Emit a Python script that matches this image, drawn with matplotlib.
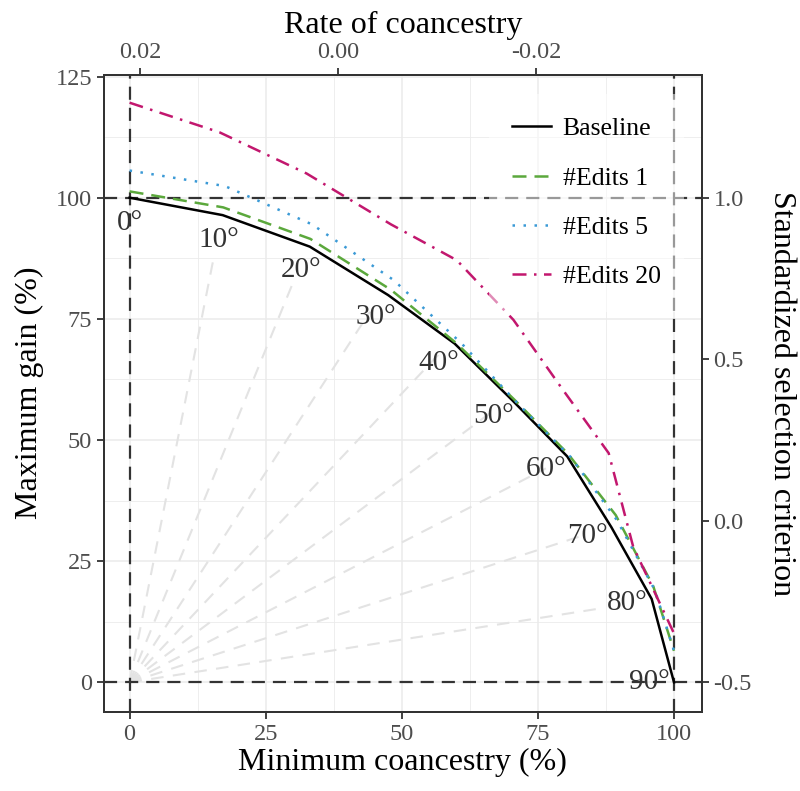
import numpy as np
import matplotlib
matplotlib.use("Agg")
import matplotlib.pyplot as plt

plt.rcParams["font.family"] = ["Liberation Serif", "DejaVu Serif"]
plt.rcParams["axes.unicode_minus"] = False

# --- data ---
angles = [0, 10, 20, 30, 40, 50, 60, 70, 80, 90]

base_x = [0, 17.1, 33.1, 47.5, 59.7, 70.3, 80.4, 88.5, 95.9, 100]
base_y = [100, 96.4, 89.9, 79.9, 69.9, 58.2, 46.6, 32.0, 17.2, 0]

ed1_x = [0, 17.2, 33.2, 48.0, 60.0, 70.7, 80.5, 89.3, 96.2, 100]
ed1_y = [101.3, 98.0, 91.5, 81.0, 70.0, 58.3, 47.2, 34.5, 19.8, 6.5]

ed5_x = [0, 17.5, 33.5, 48.5, 61.0, 71.5, 81.0, 89.5, 96.5, 100]
ed5_y = [105.6, 102.4, 94.5, 83.0, 69.9, 57.3, 46.5, 33.5, 19.0, 6.5]

ed20_x = [0, 16.5, 32.5, 48.0, 60.1, 70.5, 79.5, 88.0, 92.5, 100]
ed20_y = [119.6, 113.5, 105.0, 94.5, 87.1, 74.8, 60.5, 47.3, 28.0, 10.1]

series_labels = ["Baseline", "#Edits 1", "#Edits 5", "#Edits 20"]
series_colors = ["#000000", "#5BA83C", "#3B9AD6", "#C2176E"]

x_ticks = [0, 25, 50, 75, 100]
y_ticks = [0, 25, 50, 75, 100, 125]
rate_ticks = [0.02, 0.00, -0.02]
crit_ticks = [-0.5, 0.0, 0.5, 1.0]
fan_radius = 88.3

xlim = (-4.7, 105.07)
ylim = (-6.1, 125.4)


def rate(x):
    return 0.021044 - 0.0005495 * np.asarray(x)


def crit(y):
    return -0.5 + 0.015 * np.asarray(y)


fig = plt.figure(figsize=(8.0, 7.91), dpi=100)
ax = fig.add_axes([0.13, 0.100, 0.747, 0.8057])

# grid (major + minor)
for v in np.arange(0, 101, 12.5):
    lw = 1.1 if v % 25 == 0 else 0.6
    ax.axvline(v, color="#EBEBEB", lw=lw, zorder=0)
for v in np.arange(0, 126, 12.5):
    lw = 1.1 if v % 25 == 0 else 0.6
    ax.axhline(v, color="#EBEBEB", lw=lw, zorder=0)

# fan of angle guides from the origin
for a in angles[1:-1]:
    t = np.radians(a)
    ax.plot([0, fan_radius * np.sin(t)], [0, fan_radius * np.cos(t)],
            color="#E3E3E3", lw=1.5, ls=(0, (6, 4.5)), zorder=1)

# reference lines
ref = dict(color="#333333", lw=1.6, ls=(0, (5.9, 3.6)), zorder=2)
ax.axhline(0, **ref)
ax.axhline(100, **ref)
ax.axvline(0, **ref)
ax.axvline(100, **ref)

styles = ["-", (0, (5.6, 3.2)), (0, (1, 3.4)), (0, (5.6, 3, 1, 3))]
xs = [base_x, ed1_x, ed5_x, ed20_x]
ys = [base_y, ed1_y, ed5_y, ed20_y]
for i in range(4):
    ax.plot(xs[i], ys[i], color=series_colors[i], ls=styles[i], lw=1.8,
            label=series_labels[i], zorder=3 + i * 0.1)

# angle labels on the baseline
for a, px, py in zip(angles, base_x, base_y):
    t = np.radians(a)
    ax.annotate(f"{a}°", (px, py), xytext=(-25 * np.sin(t), -25 * np.cos(t)),
                textcoords="offset pixels", ha="center", va="center",
                fontsize=21, color="#333333", zorder=6)

ax.set_xlim(*xlim)
ax.set_ylim(*ylim)
ax.set_xticks(x_ticks)
ax.set_yticks(y_ticks)
ax.set_xlabel("Minimum coancestry (%)", fontsize=23, labelpad=2)
ax.set_ylabel("Maximum gain (%)", fontsize=23, labelpad=8)
ax.tick_params(labelsize=17.5, colors="#333333", labelcolor="#4D4D4D",
               length=5, width=1.3)

# top axis: rate of coancestry
ax_top = ax.twiny()
ax_top.set_xlim(float(rate(xlim[0])), float(rate(xlim[1])))
ax_top.set_xticks(rate_ticks)
ax_top.set_xticklabels([f"{v:.2f}" for v in rate_ticks])
ax_top.set_xlabel("Rate of coancestry", fontsize=23, labelpad=6)
ax_top.tick_params(labelsize=17.5, colors="#333333", labelcolor="#4D4D4D",
                   length=5, width=1.3)

# right axis: standardized selection criterion
ax_r = ax.twinx()
ax_r.set_ylim(float(crit(ylim[0])), float(crit(ylim[1])))
ax_r.set_yticks(crit_ticks)
ax_r.set_yticklabels([f"{v:.1f}" for v in crit_ticks])
ax_r.set_ylabel("Standardized selection criterion", fontsize=23,
                rotation=-90, labelpad=32)
ax_r.tick_params(labelsize=17.5, colors="#333333", labelcolor="#4D4D4D",
                 length=5, width=1.3)

for a_ in (ax, ax_top, ax_r):
    for s in a_.spines.values():
        s.set_color("#333333")
        s.set_linewidth(1.3)

handles, labels = ax.get_legend_handles_labels()
order = [labels.index(l) for l in series_labels]
leg = ax_r.legend([handles[k] for k in order], series_labels,
                  loc="upper left", bbox_to_anchor=(489 / 800, 1 - 94 / 791),
                  bbox_transform=fig.transFigure, borderaxespad=0,
                  fontsize=18.5, frameon=True, handlelength=1.5,
                  handletextpad=0.47, labelspacing=1.03, borderpad=0.9)
leg.get_frame().set_facecolor("white")
leg.get_frame().set_alpha(0.5)
leg.get_frame().set_edgecolor("none")

fig.savefig("out.png", dpi=100)
